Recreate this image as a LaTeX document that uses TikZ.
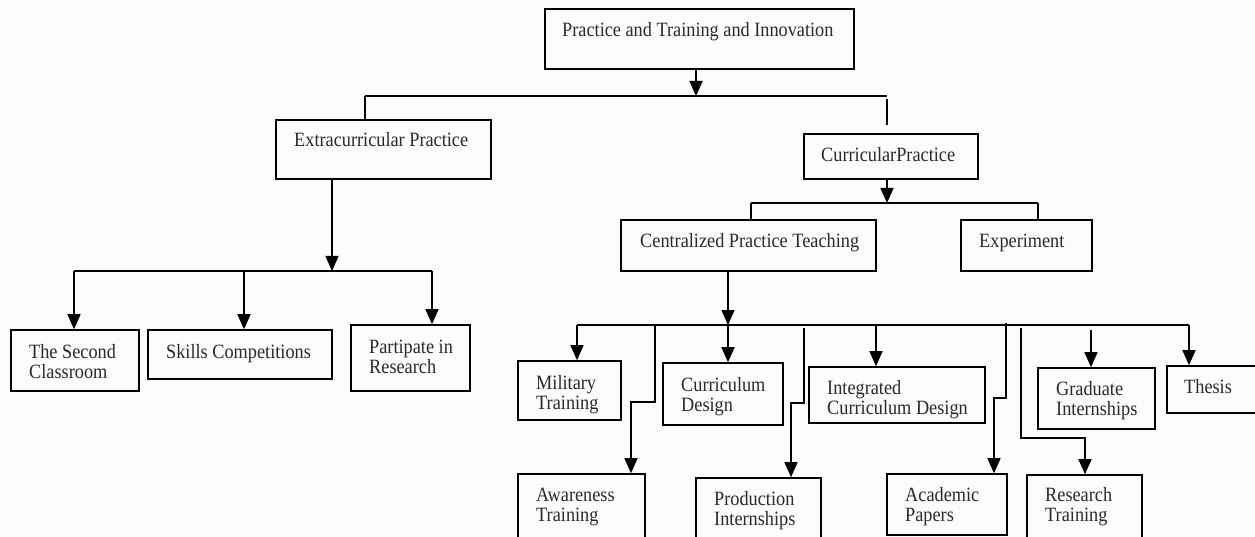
\documentclass[tikz,border=0pt]{standalone}
\usepackage{fontspec}
\setmainfont[FakeStretch=0.9]{Liberation Serif}
\usetikzlibrary{arrows.meta,fit}
\newcommand\twolines[1]{\begin{tabular}[t]{@{}l@{}}#1\end{tabular}}
\definecolor{bgc}{HTML}{FCFCFC}
\definecolor{txt}{HTML}{2A2A2A}
\begin{document}
\begin{tikzpicture}[x=1pt,y=-1pt,
  box/.style={draw=black,line width=1.6pt,inner sep=0pt},
  lbl/.style={anchor=base west,inner sep=0pt,font=\fontsize{20.3}{20}\selectfont,text=txt},
  conn/.style={line width=1.5pt},
  arr/.style={conn,-{Triangle[width=13pt,length=15pt]}}]
\useasboundingbox (0,0) rectangle (1255,537);
\fill[bgc] (0,0) rectangle (1255,537);
\clip (0,0) rectangle (1255,537);

% boxes
\node[box,fit={(545,9)(854,69)}] (top) {};
\node[box,fit={(276,120)(491,179)}] (extra) {};
\node[box,fit={(804,134)(978,179)}] (curr) {};
\node[box,fit={(621,220)(876,271)}] (cent) {};
\node[box,fit={(961,220)(1092,271)}] (exper) {};
\node[box,fit={(11,330)(139,391)}] (second) {};
\node[box,fit={(148,330)(332,379)}] (skills) {};
\node[box,fit={(351,325)(470,391)}] (partip) {};
\node[box,fit={(518,361)(621,420)}] (milit) {};
\node[box,fit={(518,474)(645,548)}] (aware) {};
\node[box,fit={(663,363)(783,425)}] (curric) {};
\node[box,fit={(696,478)(821,548)}] (prod) {};
\node[box,fit={(809,367)(985,423)}] (integ) {};
\node[box,fit={(887,474)(1007,535)}] (acad) {};
\node[box,fit={(1027,475)(1142,548)}] (resea) {};
\node[box,fit={(1038,368)(1155,429)}] (grad) {};
\node[box,fit={(1167,366)(1264,413)}] (thesis) {};

% texts
\node[lbl] (ttop) at (562,37) {Practice and Training and Innovation};
\node[lbl] (textra) at (294,147) {Extracurricular Practice};
\node[lbl] (tcurr) at (821,162) {CurricularPractice};
\node[lbl] (tcent) at (640,248) {Centralized Practice Teaching};
\node[lbl] (texper) at (979,248) {Experiment};
\node[lbl] (tsecond) at (29,358) {\twolines{The Second\\Classroom}};
\node[lbl] (tskills) at (166,358) {Skills Competitions};
\node[lbl] (tpartip) at (369,353) {\twolines{Partipate in\\Research}};
\node[lbl] (tmilit) at (536,389) {\twolines{Military\\Training}};
\node[lbl] (taware) at (536,501) {\twolines{Awareness\\Training}};
\node[lbl] (tcurric) at (681,391) {\twolines{Curriculum\\Design}};
\node[lbl] (tprod) at (714,505) {\twolines{Production\\Internships}};
\node[lbl] (tinteg) at (827,394) {\twolines{Integrated\\Curriculum Design}};
\node[lbl] (tacad) at (905,501) {\twolines{Academic\\Papers}};
\node[lbl] (tresea) at (1045,501) {\twolines{Research\\Training}};
\node[lbl] (tgrad) at (1056,395) {\twolines{Graduate\\Internships}};
\node[lbl] (tthesis) at (1184,393) {Thesis};

% level 1
\coordinate (h1L) at (365,96);
\coordinate (h1M) at (696,96);
\coordinate (h1R) at (887,96);
\coordinate (c1a) at (887,99);
\coordinate (c1b) at (887,125);
\draw[arr] (top.south -| h1M) -- (h1M);
\draw[conn] (h1L) -- (h1R);
\draw[conn] (h1L) -- (extra.north -| h1L);
\draw[conn] (c1a) -- (c1b);

% extracurricular
\coordinate (h2L) at (74,271);
\coordinate (h2C) at (244,271);
\coordinate (h2M) at (332,271);
\coordinate (h2R) at (432,271);
\draw[arr] (extra.south -| h2M) -- (h2M);
\draw[conn] (h2L) -- (h2R);
\draw[arr] (h2L) -- (second.north -| h2L);
\draw[arr] (h2C) -- (skills.north -| h2C);
\draw[arr] (h2R) -- (partip.north -| h2R);

% curricular
\coordinate (h3L) at (751,203);
\coordinate (h3M) at (887,203);
\coordinate (h3R) at (1038,203);
\draw[arr] (curr.south -| h3M) -- (h3M);
\draw[conn] (h3L) -- (h3R);
\draw[conn] (h3L) -- (cent.north -| h3L);
\draw[conn] (h3R) -- (exper.north -| h3R);

% centralized
\coordinate (h4L) at (577,325);
\coordinate (h4M) at (728,325);
\coordinate (h4R) at (1189,325);
\draw[arr] (cent.south -| h4M) -- (h4M);
\draw[conn] (h4L) -- (h4R);
\draw[arr] (h4L) -- (milit.north -| h4L);
\coordinate (b2) at (655,325);
\coordinate (b2a) at (655,402);
\coordinate (b2b) at (631,402);
\draw[arr] (b2) -- (b2a) -- (b2b) -- (aware.north -| b2b);
\draw[arr] (h4M) -- (curric.north -| h4M);
\coordinate (b4) at (804,328);
\coordinate (b4a) at (804,403);
\coordinate (b4b) at (791,403);
\draw[arr] (b4) -- (b4a) -- (b4b) -- (prod.north -| b4b);
\coordinate (b5) at (876,325);
\draw[arr] (b5) -- (integ.north -| b5);
\coordinate (b6) at (1006,323);
\coordinate (b6a) at (1006,398);
\coordinate (b6b) at (994,398);
\draw[arr] (b6) -- (b6a) -- (b6b) -- (acad.north -| b6b);
\coordinate (b7) at (1021,328);
\coordinate (b7a) at (1021,438);
\coordinate (b7b) at (1085,438);
\draw[arr] (b7) -- (b7a) -- (b7b) -- (resea.north -| b7b);
\coordinate (b8) at (1091,330);
\draw[arr] (b8) -- (grad.north -| b8);
\draw[arr] (h4R) -- (thesis.north -| h4R);
\end{tikzpicture}
\end{document}
